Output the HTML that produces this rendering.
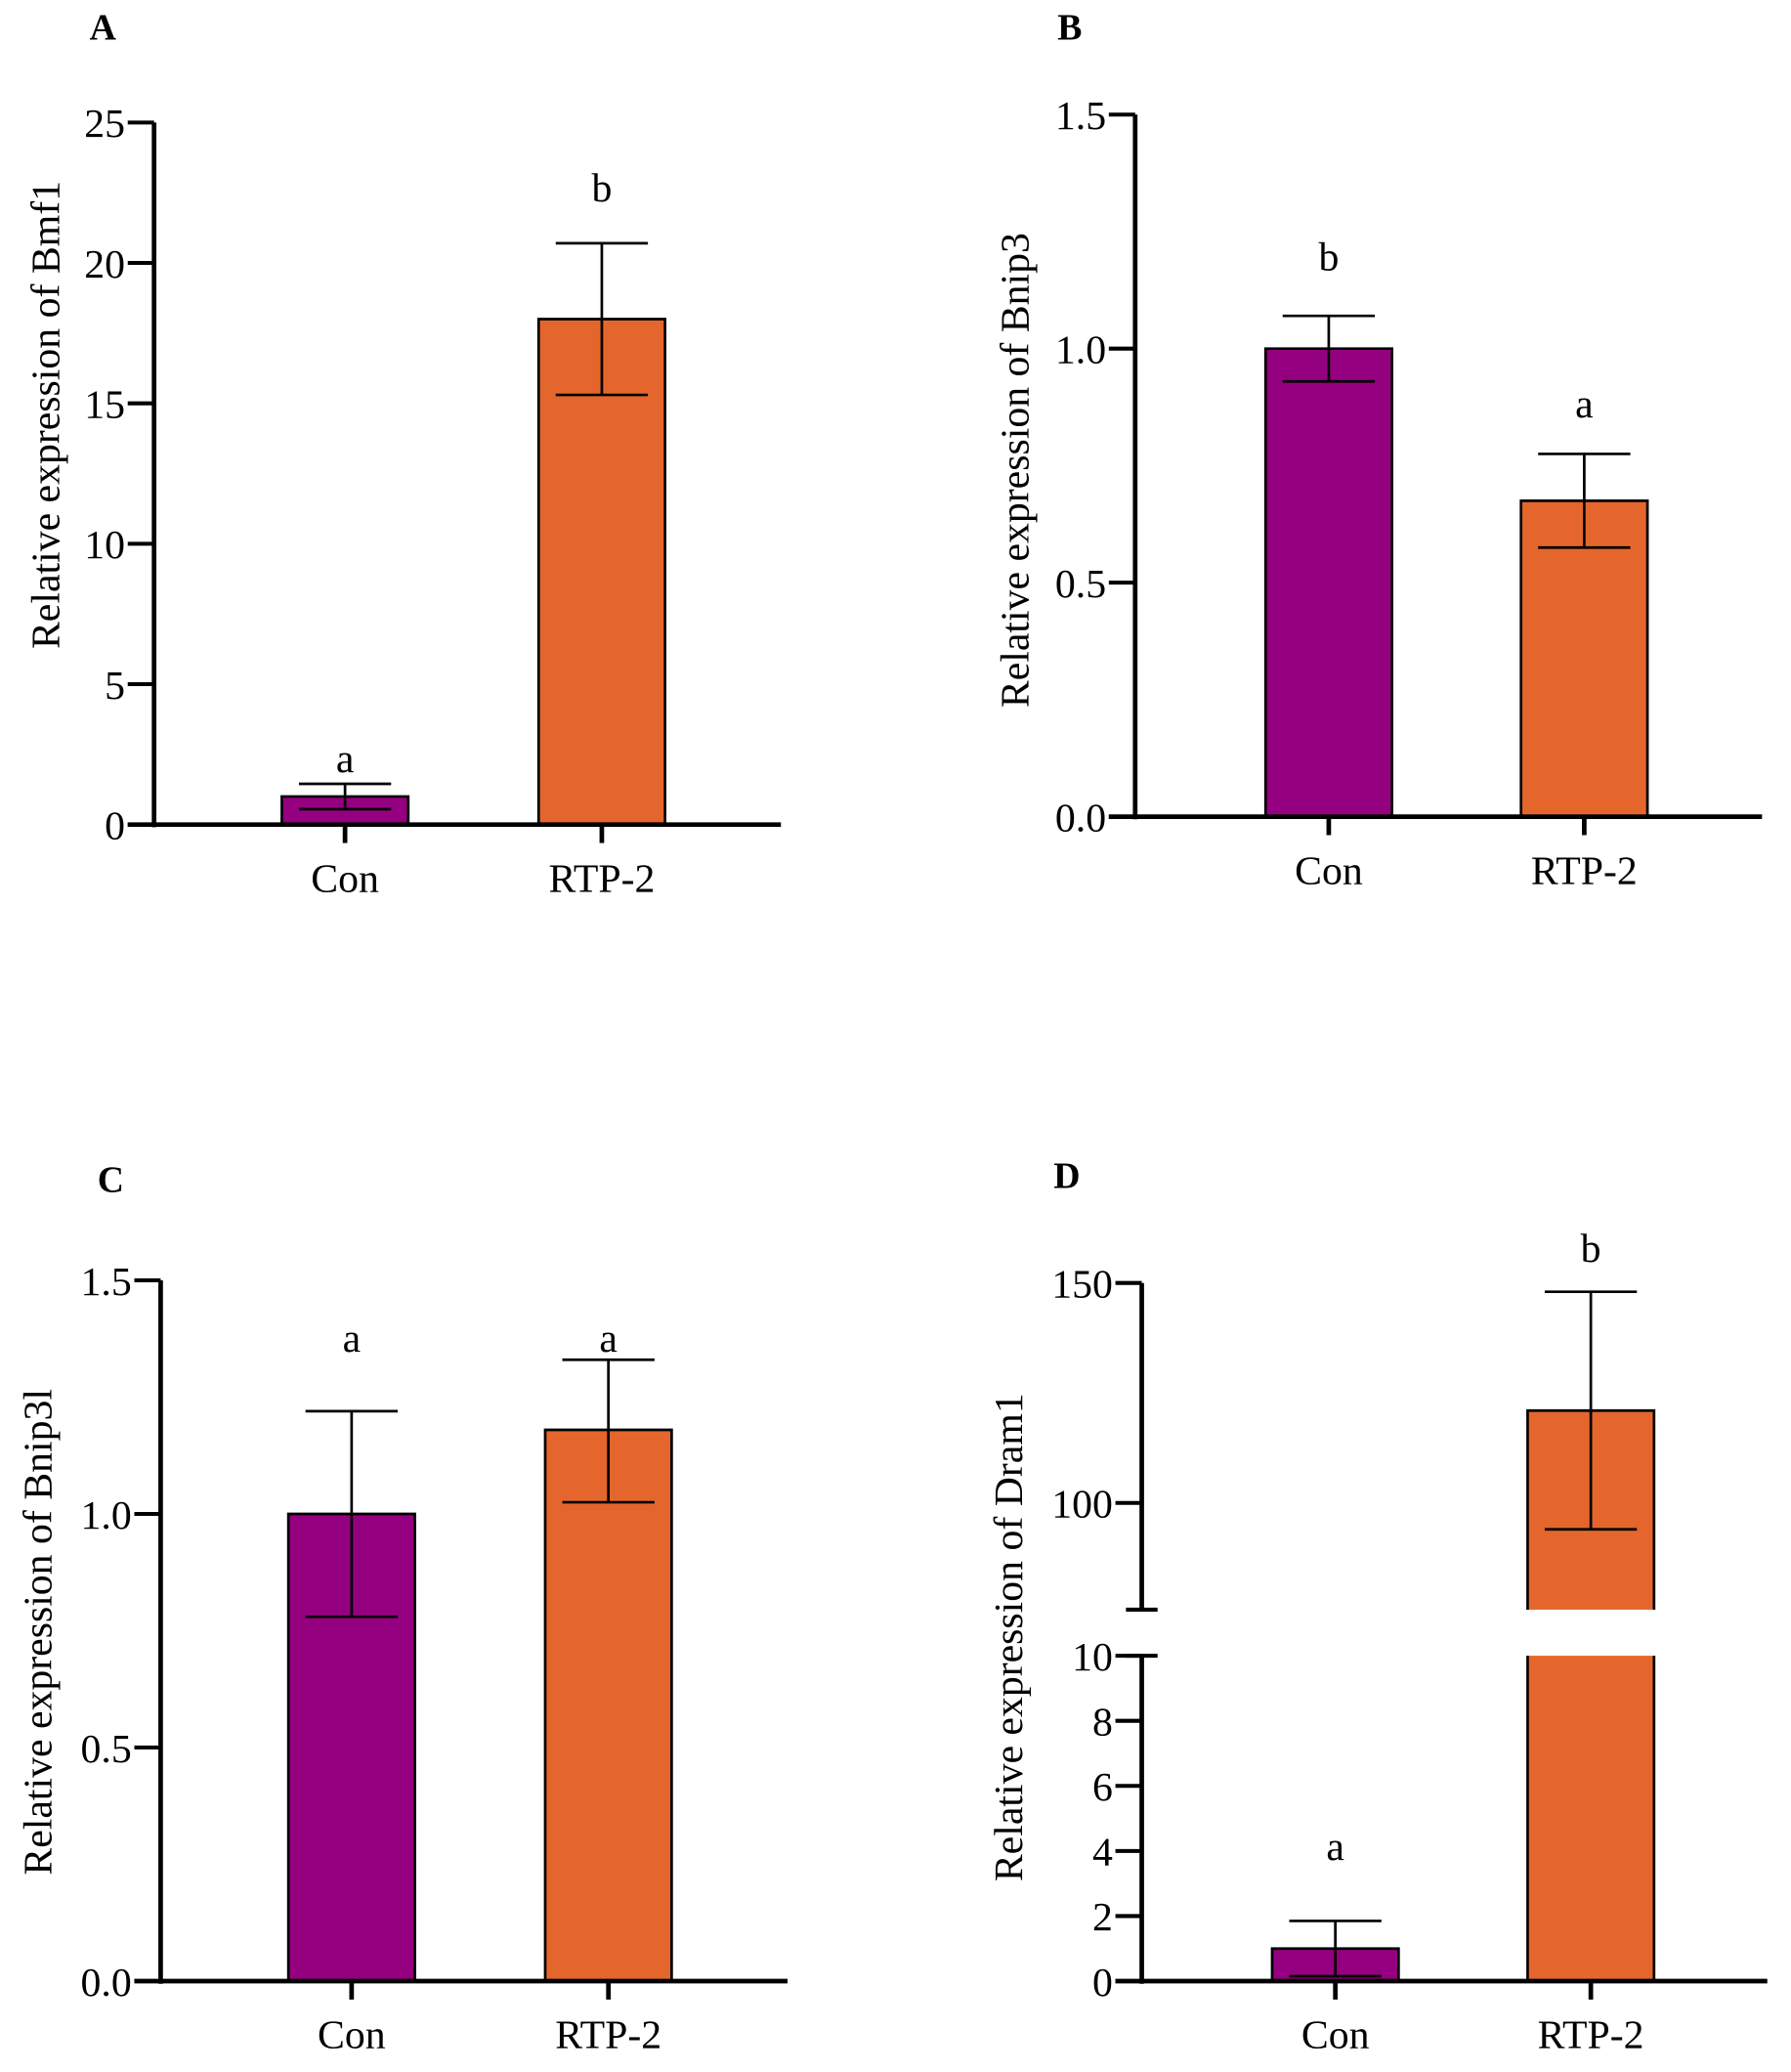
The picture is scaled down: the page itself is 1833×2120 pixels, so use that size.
<!DOCTYPE html>
<html><head><meta charset="utf-8"><style>
html,body{margin:0;padding:0;background:#fff}
svg{display:block}
text{font-family:"Liberation Serif",serif;fill:#000}
</style></head><body>
<svg id="fig" width="1833" height="2120" viewBox="0 0 1360 1573" preserveAspectRatio="none" xmlns="http://www.w3.org/2000/svg"></svg>
<script>
const categories = ["Con", "RTP-2"];
const colors = ["#950080", "#E5662C"];
// Panel A: Bmf1
const valuesA = [1.0, 18.0];
const errLowA = [0.55, 15.3];
const errHighA = [1.45, 20.7];
const lettersA = ["a", "b"];
const ticksA = [0, 5, 10, 15, 20, 25];
const tickLabelsA = ["0", "5", "10", "15", "20", "25"];
// Panel B: Bnip3
const valuesB = [1.0, 0.675];
const errLowB = [0.93, 0.575];
const errHighB = [1.07, 0.775];
const lettersB = ["b", "a"];
const ticksB = [0, 0.5, 1.0, 1.5];
const tickLabelsB = ["0.0", "0.5", "1.0", "1.5"];
// Panel C: Bnip3l
const valuesC = [1.0, 1.18];
const errLowC = [0.78, 1.025];
const errHighC = [1.22, 1.33];
const lettersC = ["a", "a"];
const ticksC = [0, 0.5, 1.0, 1.5];
const tickLabelsC = ["0.0", "0.5", "1.0", "1.5"];
// Panel D: Dram1 (broken axis)
const valuesD = [1.0, 121];
const errLowD = [0.15, 94];
const errHighD = [1.85, 148];
const lettersD = ["a", "b"];
const ticksDLow = [0, 2, 4, 6, 8, 10];
const tickLabelsDLow = ["0", "2", "4", "6", "8", "10"];
const ticksDHigh = [100, 150];
const tickLabelsDHigh = ["100", "150"];

const NS = "http://www.w3.org/2000/svg";
const svg = document.getElementById("fig");
const FS = 31;
function el(tag, attrs, parent, txt) {
  const e = document.createElementNS(NS, tag);
  for (const k in attrs) e.setAttribute(k, attrs[k]);
  if (txt !== undefined) e.textContent = txt;
  (parent || svg).appendChild(e);
  return e;
}

function panel(o) {
  const g = el("g", {});
  
  
  const lbl = el("text", {x: o.letterX, y: o.letterY, "font-size": 28, "font-weight": "bold"}, g, o.id.toUpperCase());
  
  
  const y = o.yScale;
  o.values.forEach((v, i) => {
    const cx = o.cx[i];
    const segs = o.barSegs ? o.barSegs(v) : [[y(v), y(0), true, true]];
    segs.forEach((s) => {
      const r = el("rect", {x: cx - 48, y: s[0], width: 96, height: s[1] - s[0], fill: colors[i], stroke: "none"}, g);
      
      
      let d = `M${cx-48},${s[0]}V${s[1]}M${cx+48},${s[0]}V${s[1]}`;
      if (s[2]) d += `M${cx-49},${s[0]}H${cx+49}`;
      if (s[3]) d += `M${cx-49},${s[1]}H${cx+49}`;
      const bo = el("path", {d: d, stroke: "#000", "stroke-width": 2, fill: "none"}, g);
      
      
    });
    const yl = y(o.errLow[i]), yh = y(o.errHigh[i]);
    const eb = el("path", {d: `M${cx},${yl}V${yh}M${cx-35},${yh}H${cx+35}M${cx-35},${yl}H${cx+35}`, stroke: "#000", "stroke-width": 2, fill: "none"}, g);
    
    
    const sl = el("text", {x: cx, y: o.letterYs[i], "font-size": FS, "text-anchor": "middle"}, g, o.letters[i]);
    
    
    const xt = el("line", {x1: cx, x2: cx, y1: o.y0, y2: o.y0 + 14, stroke: "#000", "stroke-width": 3.5}, g);
    
    
    const xl = el("text", {x: cx, y: o.y0 + 51, "font-size": FS, "text-anchor": "middle"}, g, categories[i]);
    
    
  });
  o.axisSegs.forEach((s) => {
    const a = el("line", {x1: o.ax, x2: o.ax, y1: s[0], y2: s[1], stroke: "#000", "stroke-width": 3.5}, g);
    
    
  });
  const xa = el("line", {x1: o.ax - 20, x2: o.xEnd, y1: o.y0, y2: o.y0, stroke: "#000", "stroke-width": 3.5}, g);
  
  
  o.ticks.forEach((t, i) => {
    const ty = y(t);
    const tk = el("line", {x1: o.ax - 20, x2: o.ax, y1: ty, y2: ty, stroke: "#000", "stroke-width": 3}, g);
    
    
    const tl = el("text", {x: o.ax - 22, y: ty + 11, "font-size": FS, "text-anchor": "end"}, g, o.tickLabels[i]);
    
    
  });
  (o.breakTicks || []).forEach((by) => {
    const bt = el("line", {x1: o.ax - 12, x2: o.ax + 12, y1: by, y2: by, stroke: "#000", "stroke-width": 3}, g);
    
    
  });
  const yt = el("text", {x: 0, y: 0, "font-size": FS, "text-anchor": "middle", transform: `translate(${o.titleX},${o.titleY}) rotate(-90)`}, g, o.title);
  
  
}

function lin(d0, d1, r0, r1) { return (v) => r0 + (v - d0) * (r1 - r0) / (d1 - d0); }

panel({id: "a", letterX: 68, letterY: 30, ax: 117, y0: 626, xEnd: 593, cx: [262, 457],
  yScale: lin(0, 25, 626, 93), values: valuesA, errLow: errLowA, errHigh: errHighA,
  letters: lettersA, letterYs: [586, 153], ticks: ticksA, tickLabels: tickLabelsA,
  axisSegs: [[93, 628]], title: "Relative expression  of Bmf1", titleX: 45, titleY: 315});
panel({id: "b", letterX: 803, letterY: 30, ax: 862, y0: 620, xEnd: 1338, cx: [1009, 1203],
  yScale: lin(0, 1.5, 620, 87), values: valuesB, errLow: errLowB, errHigh: errHighB,
  letters: lettersB, letterYs: [205, 317], ticks: ticksB, tickLabels: tickLabelsB,
  axisSegs: [[87, 622]], title: "Relative expression of  Bnip3", titleX: 781, titleY: 357});
panel({id: "c", letterX: 74, letterY: 905, ax: 122, y0: 1504, xEnd: 598, cx: [267, 462],
  yScale: lin(0, 1.5, 1504, 972), values: valuesC, errLow: errLowC, errHigh: errHighC,
  letters: lettersC, letterYs: [1026, 1026], ticks: ticksC, tickLabels: tickLabelsC,
  axisSegs: [[972, 1506]], title: "Relative expression of  Bnip3l", titleX: 39, titleY: 1239});
const yLowD = lin(0, 10, 1504, 1257);
const yHighD = lin(100, 150, 1141, 974);
const breakTop = 1222, breakBot = 1257;
function yD(v) { return v <= 10 ? yLowD(v) : yHighD(v); }
panel({id: "d", letterX: 800, letterY: 902, ax: 867, y0: 1504, xEnd: 1342, cx: [1014, 1208],
  yScale: yD, values: valuesD, errLow: errLowD, errHigh: errHighD,
  barSegs: (v) => v <= 10 ? [[yLowD(v), yLowD(0), true, true]] : [[yHighD(v), breakTop, true, false], [breakBot, yLowD(0), false, true]],
  letters: lettersD, letterYs: [1412, 958],
  ticks: ticksDLow.concat(ticksDHigh), tickLabels: tickLabelsDLow.concat(tickLabelsDHigh),
  axisSegs: [[974, breakTop], [breakBot, 1506]], breakTicks: [breakTop, breakBot],
  title: "Relative expression of Dram1", titleX: 776, titleY: 1243});
</script>
</body></html>
